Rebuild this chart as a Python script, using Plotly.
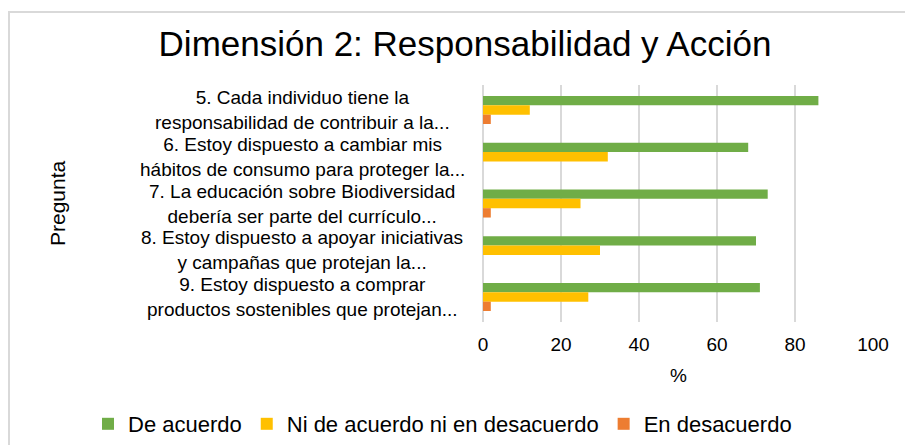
import plotly.graph_objects as go

questions = [
    "5. Cada individuo tiene la<br>responsabilidad de contribuir a la...",
    "6. Estoy dispuesto a cambiar mis<br>hábitos de consumo para proteger la...",
    "7. La educación sobre Biodiversidad<br>debería ser parte del currículo...",
    "8. Estoy dispuesto a apoyar iniciativas<br>y campañas que protejan la...",
    "9. Estoy dispuesto a comprar<br>productos sostenibles que protejan...",
]
de_acuerdo = [86, 68, 73, 70, 71]
ni_ni = [12, 32, 25, 30, 27]
en_desacuerdo = [2, 0, 2, 0, 2]

series = [
    ("De acuerdo", de_acuerdo, "#70AD47"),
    ("Ni de acuerdo ni en desacuerdo", ni_ni, "#FFC000"),
    ("En desacuerdo", en_desacuerdo, "#ED7D31"),
]

FONT = "Liberation Sans, Arial, sans-serif"
W, H = 905, 445
L, R, T, B = 483, 32, 85, 123
pw = W - L - R
ph = H - T - B

def px_x(x):
    return (x - L) / pw

def px_y(y):
    return (H - B - y) / ph

fig = go.Figure()
for name, vals, col in series:
    fig.add_trace(go.Bar(
        y=questions, x=vals, name=name, orientation="h",
        marker=dict(color=col, line=dict(width=0)),
    ))

annotations = []
for q in questions:
    annotations.append(dict(
        x=px_x(302), xref="paper", y=q, yref="y", text=q, showarrow=False,
        xanchor="center", yanchor="middle", align="center",
        font=dict(family=FONT, size=19, color="#000000"),
    ))
annotations.append(dict(
    x=px_x(57), xref="paper", y=px_y(203), yref="paper", text="Pregunta",
    textangle=-90, showarrow=False, xanchor="center", yanchor="middle",
    font=dict(family=FONT, size=21, color="#000000"),
))
annotations.append(dict(
    x=0.5, xref="paper", y=px_y(375), yref="paper", text="%",
    showarrow=False, xanchor="center", yanchor="middle",
    font=dict(family=FONT, size=19, color="#000000"),
))

fig.update_layout(
    width=W, height=H,
    margin=dict(l=L, r=R, t=T, b=B, autoexpand=False),
    paper_bgcolor="white", plot_bgcolor="white",
    barmode="group", bargap=0.4, bargroupgap=0,
    title=dict(
        text="Dimensión 2: Responsabilidad y Acción",
        x=465 / W, xref="container", xanchor="center",
        y=1 - 44 / H, yref="container", yanchor="middle",
        font=dict(family=FONT, size=35, color="#000000"),
    ),
    xaxis=dict(
        range=[0, 100], dtick=20, showgrid=True, gridcolor="#D9D9D9", gridwidth=2,
        zeroline=True, zerolinecolor="#D9D9D9", zerolinewidth=2, showline=False,
        ticks="", ticklabelstandoff=9,
        tickfont=dict(family=FONT, size=19, color="#000000"),
        fixedrange=True,
    ),
    yaxis=dict(
        autorange="reversed", showticklabels=False, showgrid=False,
        zeroline=False, showline=False, ticks="",
    ),
    legend=dict(
        orientation="h", x=px_x(88), xref="paper", xanchor="left",
        y=px_y(424), yref="paper", yanchor="middle",
        font=dict(family=FONT, size=22, color="#000000"),
        traceorder="normal",
    ),
    annotations=annotations,
    shapes=[dict(
        type="rect", xref="paper", yref="paper",
        x0=px_x(9), y0=px_y(900), x1=px_x(1800), y1=px_y(12),
        line=dict(color="#D9D9D9", width=2), fillcolor="rgba(0,0,0,0)", layer="below",
    )],
    showlegend=True,
)

fig.write_html(
    "out.html",
    config={"displayModeBar": False},
    post_script="document.body.style.margin='0';document.body.style.padding='0';",
)
